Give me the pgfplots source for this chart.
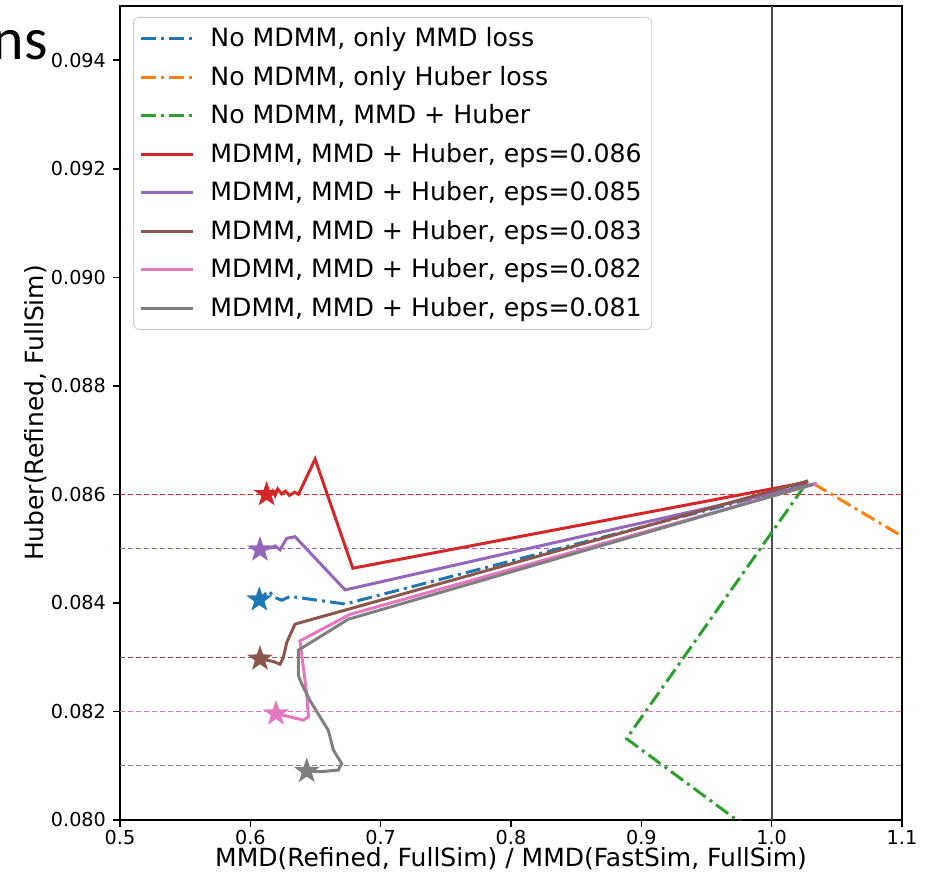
\documentclass[border=0pt]{standalone}
\usepackage{fontspec}
\setmainfont{DejaVu Sans}
\newfontfamily\titlefont{Carlito}
\usepackage{pgfplots}
\pgfplotsset{compat=1.18}
\definecolor{C0}{HTML}{1F77B4}
\definecolor{C1}{HTML}{FF7F0E}
\definecolor{C2}{HTML}{2CA02C}
\definecolor{C3}{HTML}{D62728}
\definecolor{C4}{HTML}{9467BD}
\definecolor{C5}{HTML}{8C564B}
\definecolor{C6}{HTML}{E377C2}
\definecolor{C7}{HTML}{7F7F7F}
\pgfdeclareplotmark{fstar}{%
  \pgfpathmoveto{\pgfpointpolar{90}{\pgfplotmarksize}}%
  \pgfpathlineto{\pgfpointpolar{126}{0.4\pgfplotmarksize}}%
  \pgfpathlineto{\pgfpointpolar{162}{\pgfplotmarksize}}%
  \pgfpathlineto{\pgfpointpolar{198}{0.4\pgfplotmarksize}}%
  \pgfpathlineto{\pgfpointpolar{234}{\pgfplotmarksize}}%
  \pgfpathlineto{\pgfpointpolar{270}{0.4\pgfplotmarksize}}%
  \pgfpathlineto{\pgfpointpolar{306}{\pgfplotmarksize}}%
  \pgfpathlineto{\pgfpointpolar{342}{0.4\pgfplotmarksize}}%
  \pgfpathlineto{\pgfpointpolar{18}{\pgfplotmarksize}}%
  \pgfpathlineto{\pgfpointpolar{54}{0.4\pgfplotmarksize}}%
  \pgfpathclose
  \pgfusepathqfillstroke}
\tikzset{dashdot/.style={dash pattern=on 7.5pt off 2.5pt on 1.5pt off 2.5pt}}
\pgfplotsset{
  hl/.style={forget plot, line width=0.6pt, dash pattern=on 2.5pt off 1.5pt},
  st/.style={forget plot, only marks, mark=fstar, mark size=4.5pt, mark options={solid, line width=0.3pt}}}
\begin{document}
\begin{tikzpicture}
\begin{axis}[
  scale only axis, width=391pt, height=407pt,
  xmin=0.5, xmax=1.1, ymin=0.080, ymax=0.095,
  xtick={0.5,0.6,...,1.1},
  ytick={0.080,0.082,...,0.0945},
  /pgf/number format/assume math mode=true,
  xticklabel style={/pgf/number format/.cd, fixed, fixed zerofill, precision=1, /tikz/.cd, yshift=2pt},
  yticklabel style={/pgf/number format/.cd, fixed, fixed zerofill, precision=3},
  scaled ticks=false,
  tick label style={font=\fontsize{9.6}{11}\selectfont},
  label style={font=\fontsize{12.5}{15}\selectfont},
  xlabel={MMD(Refined, FullSim) / MMD(FastSim, FullSim)},
  ylabel={Huber(Refined, FullSim)},
  xlabel style={yshift=5.5pt},
  ylabel style={yshift=-5pt},
  tick align=outside, tick pos=left,
  major tick length=3.5pt,
  every tick/.style={black, line width=0.8pt},
  axis line style={line width=0.8pt},
  legend style={at={(0,1)}, anchor=north west, xshift=6.5pt, yshift=-5.5pt,
    draw=black!20, rounded corners=3pt, fill=white,
    font=\fontsize{12.6}{14}\selectfont, row sep=4.2pt,
    inner xsep=3pt, inner ysep=3pt, cells={anchor=west}},
  legend image code/.code={\draw[#1, line width=1.5pt] (0pt,0pt) -- (26pt,0pt); \path (32pt,0pt);},
  every axis plot/.append style={line width=1.5pt},
]
% reference lines
\addplot[hl, C3] coordinates {(0.5,0.086) (1.1,0.086)};
\addplot[hl, C4] coordinates {(0.5,0.085) (1.1,0.085)};
\addplot[hl, C5] coordinates {(0.5,0.083) (1.1,0.083)};
\addplot[hl, C6] coordinates {(0.5,0.082) (1.1,0.082)};
\addplot[hl, C7] coordinates {(0.5,0.081) (1.1,0.081)};
\addplot[forget plot, black!70, line width=0.9pt] coordinates {(1.0,0.080) (1.0,0.095)};
% series
\addplot[C0, dashdot] coordinates {(1.026,0.08618) (0.6727,0.08398) (0.6305,0.08412) (0.6241,0.08405) (0.619,0.0841) (0.6138,0.08422) (0.6069,0.08406)};
\addlegendentry{No MDMM, only MMD loss}
\addplot[C1, dashdot] coordinates {(1.032,0.0862) (1.1,0.08523)};
\addlegendentry{No MDMM, only Huber loss}
\addplot[C2, dashdot] coordinates {(1.025,0.08615) (0.8886,0.0815) (0.98,0.07988)};
\addlegendentry{No MDMM, MMD + Huber}
\addplot[C3] coordinates {(1.028,0.08623) (0.6786,0.08464) (0.6497,0.08665) (0.6369,0.08600) (0.634,0.08604) (0.630,0.08598) (0.627,0.08606) (0.624,0.08601) (0.621,0.08610) (0.619,0.08598) (0.617,0.08606) (0.615,0.08599) (0.6125,0.08600)};
\addlegendentry{MDMM, MMD + Huber, eps=0.086}
\addplot[C4] coordinates {(1.034,0.0862) (0.6727,0.08424) (0.6343,0.08522) (0.6279,0.08519) (0.6228,0.08498) (0.619,0.08505) (0.6164,0.08502) (0.6074,0.08498)};
\addlegendentry{MDMM, MMD + Huber, eps=0.085}
\addplot[C5] coordinates {(1.028,0.08625) (0.6343,0.08361) (0.6279,0.08327) (0.6254,0.0830) (0.6228,0.08287) (0.6177,0.08292) (0.6074,0.08297)};
\addlegendentry{MDMM, MMD + Huber, eps=0.083}
\addplot[C6] coordinates {(1.035,0.0862) (0.6765,0.08379) (0.6381,0.0833) (0.6433,0.08232) (0.6446,0.0819) (0.6407,0.08184) (0.6305,0.0819) (0.6197,0.08196)};
\addlegendentry{MDMM, MMD + Huber, eps=0.082}
\addplot[C7] coordinates {(1.032,0.08619) (0.6752,0.0837) (0.6369,0.08313) (0.6369,0.08266) (0.6394,0.08251) (0.6458,0.0822) (0.6599,0.08165) (0.6637,0.08129) (0.6701,0.08104) (0.6675,0.08092) (0.6535,0.08089) (0.6433,0.0809)};
\addlegendentry{MDMM, MMD + Huber, eps=0.081}
% stars (final points)
\addplot[st, C0, mark options={fill=C0}] coordinates {(0.6069,0.08406)};
\addplot[st, C3, mark options={fill=C3}] coordinates {(0.6125,0.08600)};
\addplot[st, C4, mark options={fill=C4}] coordinates {(0.6074,0.08498)};
\addplot[st, C5, mark options={fill=C5}] coordinates {(0.6074,0.08297)};
\addplot[st, C6, mark options={fill=C6}] coordinates {(0.6197,0.08196)};
\addplot[st, C7, mark options={fill=C7}] coordinates {(0.6433,0.0809)};
\end{axis}
\node[anchor=base east, font=\titlefont\fontsize{30}{30}\selectfont, inner sep=0pt] at (-36pt,380pt) {ns};
\pgfresetboundingbox
\path[use as bounding box] (-60pt,-27pt) rectangle (405.5pt,410pt);
\end{tikzpicture}
\end{document}
